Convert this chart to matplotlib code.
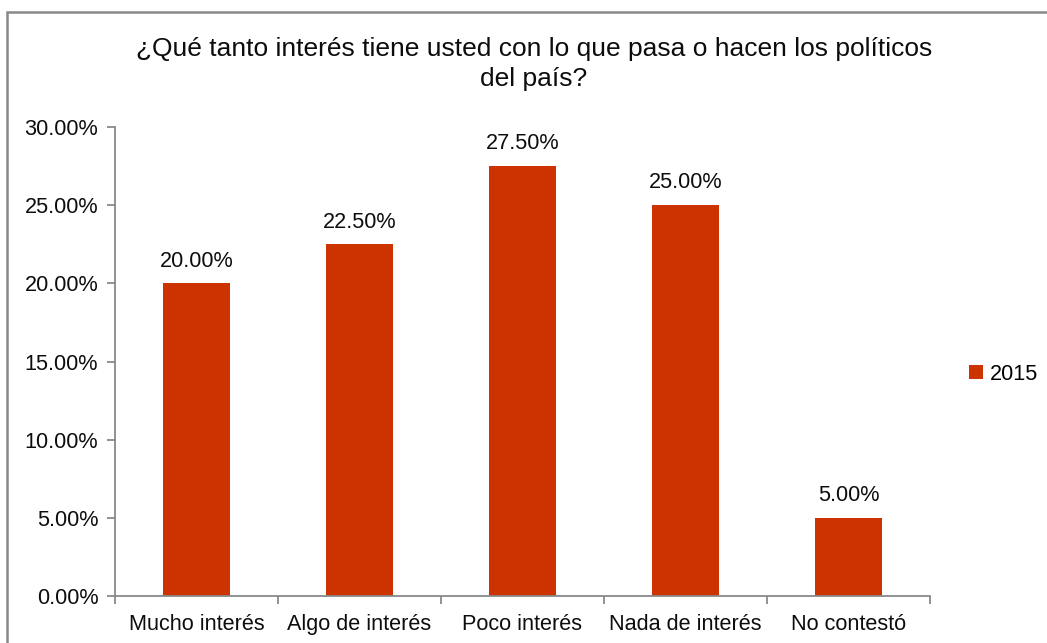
import matplotlib
matplotlib.use("Agg")
import matplotlib.pyplot as plt
from matplotlib.patches import Rectangle
from matplotlib.ticker import FuncFormatter, MultipleLocator

categories = ["Mucho interés", "Algo de interés", "Poco interés", "Nada de interés", "No contestó"]
values_2015 = [20.0, 22.5, 27.5, 25.0, 5.0]
series_name = "2015"
title = "¿Qué tanto interés tiene usted con lo que pasa o hacen los políticos\ndel país?"

plt.rcParams["font.family"] = ["Liberation Sans", "DejaVu Sans"]

bar_color = "#CC3300"
axis_color = "#898989"
text_color = "#0d0d0d"
fs = 15.6

fig = plt.figure(figsize=(10.47, 6.43), dpi=100)
fig.patch.set_facecolor("white")

# chart-area frame
fig.add_artist(Rectangle((7 / 1047, -0.05), 1.2, 0.05 + (643 - 12) / 643,
                         transform=fig.transFigure, fill=False,
                         edgecolor=axis_color, linewidth=1.8, zorder=0))

ax = fig.add_axes([115 / 1047, (643 - 596) / 643, (930 - 115) / 1047, (596 - 127) / 643])

x = list(range(len(categories)))
bars = ax.bar(x, values_2015, width=0.405, color=bar_color, label=series_name, zorder=2)

for xi, v in zip(x, values_2015):
    ax.text(xi, v + 0.75, f"{v:.2f}%", ha="center", va="bottom", fontsize=fs, color=text_color)

ax.set_xlim(-0.5, len(categories) - 0.5)
ax.set_ylim(0, 30)
ax.yaxis.set_major_locator(MultipleLocator(5))
ax.yaxis.set_major_formatter(FuncFormatter(lambda v, _: f"{v:.2f}%"))

ax.set_xticks(x)
ax.set_xticklabels(categories)
ax.set_xticks([i - 0.5 for i in range(len(categories) + 1)], minor=True)
ax.tick_params(axis="x", which="major", length=0, pad=13, labelsize=fs, labelcolor=text_color)
ax.tick_params(axis="x", which="minor", length=6, width=1.3, color=axis_color, direction="out")
ax.tick_params(axis="y", length=6, width=1.3, color=axis_color, direction="out",
               labelsize=fs, labelcolor=text_color, pad=6)

for side in ("top", "right"):
    ax.spines[side].set_visible(False)
for side in ("left", "bottom"):
    ax.spines[side].set_color(axis_color)
    ax.spines[side].set_linewidth(1.3)

fig.text(534 / 1047, (643 - 64) / 643, title, ha="center", va="center",
         fontsize=19, color=text_color, linespacing=1.3)

fig.legend(handles=[bars], labels=[series_name], loc="center left",
           bbox_to_anchor=(969 / 1047, (643 - 374) / 643), frameon=False,
           borderpad=0, borderaxespad=0,
           fontsize=fs, handlelength=0.65, handleheight=0.65, handletextpad=0.3)

fig.savefig("out.png", dpi=100, facecolor="white")
